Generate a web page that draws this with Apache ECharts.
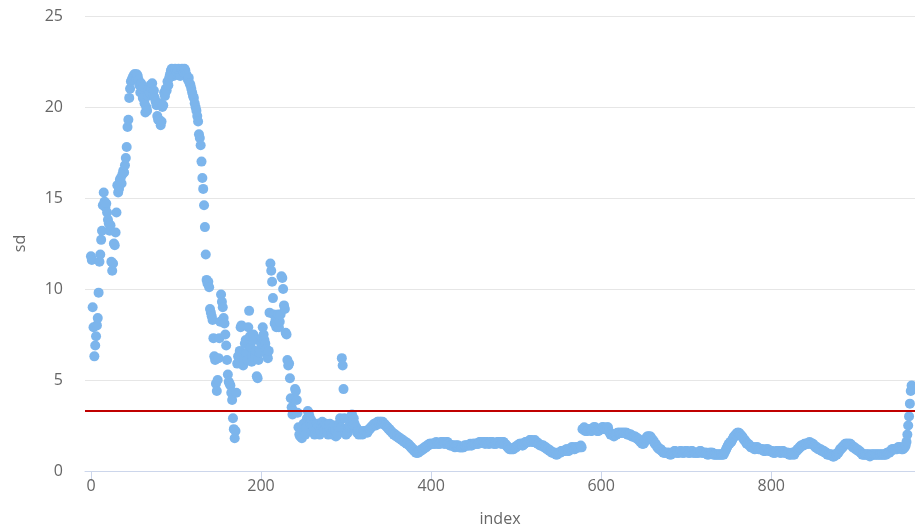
<!DOCTYPE html>
<html>
<head>
<meta charset="utf-8">
<title>sd by index</title>
<script src="https://cdn.jsdelivr.net/npm/echarts@6/dist/echarts.min.js"></script>
<style>
  html, body { margin: 0; padding: 0; background: #fff; }
  #chart { width: 915px; height: 531px; }
</style>
</head>
<body>
<div id="chart"></div>
<script>
// sd value for each index in blocks of 100
var sd000 = [
  11.8, 11.6, 9.0, 7.9, 6.3, 6.9, 7.4, 8.0, 8.4, 9.8,
  11.5, 11.9, 12.7, 13.2, 14.6, 15.3, 14.8, 14.5, 14.7, 14.2,
  13.8, 13.6, 13.2, 13.5, 11.5, 11.0, 11.4, 12.5, 12.4, 13.1,
  14.2, 15.7, 15.3, 15.5, 16.0, 16.1, 15.8, 16.3, 16.5, 16.4,
  16.8, 17.2, 17.8, 18.9, 19.3, 20.5, 21.0, 21.4, 21.5, 21.6,
  21.7, 21.8, 21.8, 21.6, 21.8, 21.7, 21.5, 21.2, 20.8, 21.3,
  21.0, 20.5, 21.1, 20.2, 19.7, 20.0, 19.8, 20.6, 21.0, 20.8,
  21.2, 21.0, 21.3, 20.7, 20.9, 20.5, 20.3, 20.1, 19.5, 19.3,
  19.3, 20.2, 19.0, 19.2, 20.0, 20.1, 20.8, 20.6, 21.0, 20.9,
  21.4, 21.2, 21.6, 21.8, 22.0, 22.1, 21.9, 21.7, 22.0, 22.1
];
var sd100 = [
  21.8, 21.9, 22.0, 22.1, 21.8, 21.7, 22.0, 22.1, 22.0, 21.9,
  22.1, 22.0, 21.8, 21.7, 21.5, 21.6, 21.3, 21.2, 21.0, 20.8,
  20.6, 20.5, 20.2, 20.0, 19.8, 19.5, 19.2, 18.5, 18.3, 17.9,
  17.0, 16.1, 15.5, 14.6, 13.4, 11.9, 10.5, 10.3, 10.4, 10.1,
  8.9, 8.7, 8.5, 8.3, 7.3, 6.3, 6.1, 4.8, 4.4, 5.0,
  6.2, 7.3, 8.2, 9.7, 9.3, 9.0, 8.4, 8.1, 7.5, 6.9,
  6.1, 5.3, 4.9, 4.8, 4.7, 4.3, 3.9, 2.9, 2.3, 1.8,
  2.2, 4.3, 5.9, 6.3, 6.0, 6.6, 7.9, 8.0, 6.2, 5.8,
  6.1, 7.0, 7.2, 6.5, 6.1, 7.9, 8.8, 7.4, 6.8, 6.0,
  6.3, 7.5, 7.2, 6.4, 6.6, 5.2, 5.1, 6.1, 6.5, 6.6
];
var sd200 = [
  7.0, 7.3, 7.9, 7.5, 7.2, 7.0, 6.7, 6.4, 6.2, 6.6,
  8.7, 11.4, 11.0, 10.4, 9.5, 8.6, 8.1, 8.3, 7.9, 8.1,
  8.6, 7.9, 8.2, 8.6, 10.7, 10.6, 10.0, 9.1, 8.9, 7.6,
  7.5, 6.1, 5.8, 5.9, 5.1, 4.0, 3.5, 3.1, 3.3, 4.0,
  4.5, 4.4, 3.9, 3.2, 2.4, 2.0, 1.9, 2.1, 1.8, 2.3,
  2.6, 2.2, 2.0, 2.4, 2.9, 3.3, 3.2, 3.0, 2.6, 2.8,
  2.5, 2.2, 2.4, 2.0, 2.1, 2.3, 2.6, 2.4, 2.2, 2.0,
  2.2, 2.5, 2.7, 2.4, 2.2, 2.3, 2.6, 2.5, 2.2, 2.0,
  2.4, 2.6, 2.3, 2.1, 2.0, 2.3, 2.5, 2.2, 1.9, 2.1,
  2.0, 2.4, 2.6, 2.9, 2.4, 6.2, 5.8, 4.5, 2.9, 2.3
];
var sd300 = [
  2.0, 2.3, 2.1, 2.4, 2.5, 2.8, 3.0, 3.1, 2.5, 2.9,
  2.6, 2.3, 2.4, 2.1, 2.2, 2.0, 2.1, 2.2, 2.1, 2.0,
  2.1, 2.2, 2.1, 2.2, 2.2, 2.1, 2.2, 2.3, 2.3, 2.4,
  2.4, 2.5, 2.5, 2.6, 2.6, 2.5, 2.6, 2.7, 2.7, 2.6,
  2.7, 2.7, 2.6, 2.7, 2.6, 2.6, 2.5, 2.5, 2.4, 2.4,
  2.3, 2.3, 2.2, 2.2, 2.1, 2.1, 2.0, 2.0, 2.0, 1.9,
  1.9, 1.9, 1.8, 1.8, 1.8, 1.7, 1.7, 1.7, 1.6, 1.6,
  1.6, 1.5, 1.5, 1.5, 1.4, 1.4, 1.3, 1.3, 1.2, 1.2,
  1.1, 1.1, 1.0, 1.0, 1.0, 1.0, 1.1, 1.1, 1.1, 1.2,
  1.2, 1.2, 1.3, 1.3, 1.3, 1.4, 1.4, 1.4, 1.5, 1.5
];
var sd400 = [
  1.5, 1.5, 1.5, 1.5, 1.5, 1.5, 1.6, 1.5, 1.5, 1.5,
  1.5, 1.5, 1.6, 1.6, 1.6, 1.5, 1.5, 1.5, 1.6, 1.6,
  1.5, 1.5, 1.4, 1.4, 1.4, 1.4, 1.4, 1.4, 1.3, 1.4,
  1.4, 1.4, 1.4, 1.3, 1.3, 1.3, 1.3, 1.3, 1.3, 1.4,
  1.4, 1.4, 1.4, 1.4, 1.4, 1.4, 1.5, 1.4, 1.4, 1.5,
  1.5, 1.5, 1.5, 1.5, 1.5, 1.5, 1.5, 1.6, 1.6, 1.6,
  1.6, 1.6, 1.6, 1.5, 1.5, 1.6, 1.6, 1.5, 1.5, 1.5,
  1.6, 1.6, 1.6, 1.5, 1.5, 1.5, 1.5, 1.5, 1.6, 1.6,
  1.6, 1.6, 1.5, 1.5, 1.6, 1.6, 1.5, 1.5, 1.4, 1.4,
  1.3, 1.3, 1.2, 1.2, 1.2, 1.2, 1.2, 1.2, 1.3, 1.3
];
var sd500 = [
  1.3, 1.4, 1.4, 1.4, 1.5, 1.5, 1.5, 1.4, 1.4, 1.5,
  1.5, 1.6, 1.6, 1.6, 1.6, 1.6, 1.7, 1.7, 1.7, 1.6,
  1.6, 1.6, 1.7, 1.6, 1.6, 1.5, 1.5, 1.5, 1.4, 1.4,
  1.4, 1.4, 1.4, 1.3, 1.3, 1.3, 1.2, 1.2, 1.2, 1.1,
  1.1, 1.1, 1.0, 1.0, 1.0, 1.0, 1.0, 0.9, 0.9, 1.0,
  1.0, 1.0, 1.0, 1.1, 1.1, 1.1, 1.1, 1.1, 1.1, 1.2,
  1.2, 1.1, 1.1, 1.2, 1.2, 1.3, 1.3, 1.3, 1.2, 1.2,
  1.3, 1.3, 1.3, 1.3, 1.3, 1.3, 1.4, 1.3, 2.3, 2.3,
  2.4, 2.2, 2.3, 2.2, 2.2, 2.3, 2.3, 2.3, 2.2, 2.2,
  2.3, 2.4, 2.4, 2.4, 2.3, 2.2, 2.2, 2.2, 2.3, 2.3
];
var sd600 = [
  2.3, 2.4, 2.4, 2.4, 2.3, 2.3, 2.3, 2.4, 2.4, 2.2,
  2.1, 2.0, 2.0, 2.0, 2.0, 1.9, 2.0, 2.0, 2.0, 2.1,
  2.1, 2.1, 2.1, 2.1, 2.1, 2.1, 2.1, 2.1, 2.1, 2.1,
  2.1, 2.0, 2.0, 2.0, 2.0, 2.0, 1.9, 1.9, 1.9, 1.9,
  1.9, 1.8, 1.8, 1.8, 1.7, 1.7, 1.6, 1.6, 1.5, 1.5,
  1.5, 1.6, 1.7, 1.8, 1.9, 1.9, 1.9, 1.9, 1.9, 1.8,
  1.7, 1.7, 1.6, 1.5, 1.5, 1.4, 1.3, 1.3, 1.2, 1.2,
  1.2, 1.1, 1.1, 1.0, 1.0, 1.0, 1.0, 1.0, 1.0, 1.0,
  1.0, 0.9, 0.9, 1.0, 1.0, 1.0, 1.1, 1.1, 1.0, 1.0,
  1.0, 1.0, 1.0, 1.1, 1.1, 1.0, 1.0, 1.0, 1.0, 1.1
];
var sd700 = [
  1.1, 1.1, 1.0, 1.0, 1.0, 1.0, 1.1, 1.1, 1.0, 1.0,
  1.0, 1.0, 1.0, 1.0, 1.0, 1.0, 1.1, 1.1, 1.0, 1.0,
  1.0, 1.0, 1.0, 1.0, 1.0, 0.9, 0.9, 1.0, 1.0, 1.0,
  1.0, 1.0, 0.9, 0.9, 0.9, 0.9, 0.9, 0.9, 0.9, 0.9,
  0.9, 0.9, 0.9, 0.9, 0.9, 1.0, 1.1, 1.2, 1.3, 1.4,
  1.5, 1.5, 1.6, 1.6, 1.7, 1.8, 1.9, 1.9, 2.0, 2.0,
  2.1, 2.1, 2.1, 2.0, 2.0, 1.9, 1.9, 1.8, 1.7, 1.7,
  1.6, 1.5, 1.5, 1.5, 1.4, 1.4, 1.3, 1.3, 1.3, 1.3,
  1.2, 1.2, 1.3, 1.3, 1.3, 1.2, 1.2, 1.2, 1.2, 1.2,
  1.2, 1.1, 1.1, 1.1, 1.2, 1.2, 1.2, 1.1, 1.1, 1.1
];
var sd800 = [
  1.1, 1.1, 1.0, 1.0, 1.0, 1.0, 1.1, 1.1, 1.1, 1.1,
  1.0, 1.0, 1.0, 1.1, 1.1, 1.0, 1.0, 1.0, 1.0, 1.0,
  1.0, 0.9, 0.9, 0.9, 1.0, 1.0, 0.9, 0.9, 1.0, 1.1,
  1.1, 1.2, 1.2, 1.3, 1.3, 1.4, 1.4, 1.4, 1.4, 1.5,
  1.5, 1.5, 1.5, 1.5, 1.5, 1.6, 1.5, 1.5, 1.5, 1.5,
  1.4, 1.4, 1.3, 1.3, 1.3, 1.2, 1.2, 1.2, 1.2, 1.1,
  1.1, 1.1, 1.1, 1.0, 1.0, 1.0, 0.9, 0.9, 0.9, 0.9,
  0.9, 0.9, 0.8, 0.8, 0.8, 0.9, 0.9, 0.9, 1.0, 1.0,
  1.1, 1.2, 1.2, 1.3, 1.3, 1.4, 1.4, 1.5, 1.5, 1.5,
  1.5, 1.5, 1.5, 1.5, 1.4, 1.4, 1.3, 1.3, 1.3, 1.2
];
var sd900 = [
  1.2, 1.2, 1.1, 1.1, 1.1, 1.0, 1.0, 0.9, 0.9, 0.9,
  0.9, 0.9, 0.9, 0.9, 0.9, 0.9, 0.8, 0.9, 0.9, 0.9,
  0.9, 0.9, 0.9, 0.9, 0.9, 0.9, 0.9, 0.9, 0.9, 0.9,
  0.9, 0.9, 0.9, 0.9, 0.9, 0.9, 1.0, 1.0, 1.0, 1.0,
  1.1, 1.1, 1.2, 1.2, 1.2, 1.2, 1.2, 1.2, 1.2, 1.3,
  1.3, 1.3, 1.3, 1.2, 1.2, 1.2, 1.3, 1.3, 1.4, 1.6,
  2.0, 2.5, 3.0, 3.7, 4.4, 4.7, 4.5
];

var limitValue = 3.32;          // red reference line
var xTicks = [0, 200, 400, 600, 800];

var sdValues = [].concat(sd000, sd100, sd200, sd300, sd400,
  sd500, sd600, sd700, sd800, sd900);
var points = sdValues.map(function (v, i) { return [i, v]; });

var chart = echarts.init(document.getElementById("chart"));
chart.setOption({
  animation: false,
  textStyle: { fontFamily: "Open Sans" },
  grid: {
    left: 85,
    right: 0,
    top: 16,
    bottom: 60,
    containLabel: false,
    outerBoundsMode: "none"
  },
  xAxis: {
    type: "value",
    min: -7,
    max: 969,
    name: "index",
    nameLocation: "middle",
    nameGap: 40,
    nameTextStyle: { color: "#666", fontSize: 16 },
    splitLine: { show: false },
    axisLine: { lineStyle: { color: "#ccd6eb" } },
    axisTick: {
      show: true,
      customValues: xTicks,
      length: 10,
      lineStyle: { color: "#ccd6eb", width: 1 }
    },
    axisLabel: {
      customValues: xTicks,
      color: "#666",
      fontSize: 16,
      margin: 7
    }
  },
  yAxis: {
    type: "value",
    min: 0,
    max: 25,
    interval: 5,
    name: "sd",
    nameLocation: "middle",
    nameGap: 57,
    nameTextStyle: { color: "#666", fontSize: 16 },
    axisLine: { show: false },
    axisTick: { show: false },
    splitLine: { lineStyle: { color: "#e6e6e6" } },
    axisLabel: { color: "#666", fontSize: 16, margin: 22 }
  },
  series: [
    {
      name: "sd",
      type: "scatter",
      data: points,
      symbolSize: 10,
      itemStyle: { color: "#7cb5ec", opacity: 1 },
      markLine: {
        silent: true,
        symbol: "none",
        label: { show: false },
        lineStyle: { color: "#c00000", width: 2, type: "solid" },
        data: [{ yAxis: limitValue }]
      }
    }
  ]
});
</script>
</body>
</html>
